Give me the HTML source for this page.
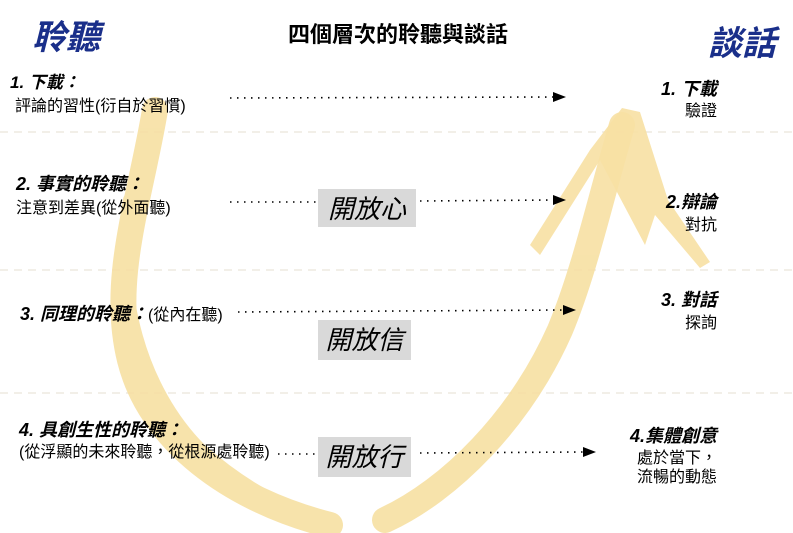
<!DOCTYPE html>
<html><head><meta charset="utf-8"><style>
body{margin:0;width:793px;height:533px;background:#fff;position:relative;overflow:hidden;font-family:"Liberation Sans","Noto Sans CJK TC",sans-serif;}
.t{position:absolute;white-space:nowrap;color:#000;}
.i{font-style:italic;font-weight:bold;}
.box{position:absolute;background:#d9d9d9;font-size:26px;font-style:italic;text-align:center;line-height:40px;}
.r{text-align:right;}
</style></head><body>
<svg width="793" height="533" style="position:absolute;left:0;top:0">
<g stroke="#eeeae0" stroke-width="1.5" stroke-dasharray="8,6">
<line x1="0" y1="132" x2="793" y2="132"/><line x1="0" y1="270" x2="793" y2="270"/><line x1="0" y1="393" x2="793" y2="393"/>
</g>
<g fill="none" stroke="#f7e0a3" stroke-linecap="round" opacity="0.9">
<path d="M155,110 C140,200 110,280 130,360 C150,440 230,500 330,525" stroke-width="26"/>
<path d="M130,200 C112,290 140,390 200,450 C250,495 300,515 320,520" stroke-width="14"/>
<path d="M385,520 C450,490 520,420 560,330 C585,270 600,200 622,125" stroke-width="26"/>
<path d="M405,515 C480,470 540,390 575,300" stroke-width="12"/>
</g>
<g fill="#f7e0a3" opacity="0.9">
<polygon points="622,108 640,112 668,200 710,262 700,268 655,215 645,245 600,160 540,255 530,245 590,150"/>
</g>
<g fill="#000">
<polygon points="553,92 566,97 553,102"/>
<polygon points="553,195 566,200 553,205"/>
<polygon points="563,305 576,310 563,315"/>
<polygon points="583,447 596,452 583,457"/>
</g>
<g fill="none" stroke="#000" stroke-width="1.6" stroke-dasharray="1.5,5.5">
<line x1="230" y1="98" x2="553" y2="97"/>
<line x1="230" y1="202" x2="318" y2="202"/><line x1="420" y1="201" x2="553" y2="200"/>
<line x1="238" y1="312" x2="563" y2="310"/>
<line x1="278" y1="454" x2="318" y2="454"/><line x1="420" y1="453" x2="583" y2="452"/>
</g>
</svg>
<div class="t i" style="left:32px;top:10px;font-size:34px;color:#1a2f8a;">聆聽</div>
<div class="t i" style="left:708px;top:16px;font-size:34px;color:#1a2f8a;">談話</div>
<div class="t" style="left:288px;top:17px;font-size:22px;font-weight:bold;">四個層次的聆聽與談話</div>

<div class="t i" style="left:10px;top:68px;font-size:17px;">1. 下載：</div>
<div class="t" style="left:15px;top:92px;font-size:16px;">評論的習性(衍自於習慣)</div>
<div class="t i" style="left:16px;top:170px;font-size:18px;">2. 事實的聆聽：</div>
<div class="t" style="left:16px;top:194px;font-size:16px;">注意到差異(從外面聽)</div>
<div class="t" style="left:20px;top:300px;font-size:18px;"><span class="i">3. 同理的聆聽：</span><span style="font-size:16px">(從內在聽)</span></div>
<div class="t i" style="left:19px;top:416px;font-size:18px;">4. 具創生性的聆聽：</div>
<div class="t" style="left:19px;top:438px;font-size:16px;">(從浮顯的未來聆聽，從根源處聆聽)</div>

<div class="box" style="left:318px;top:189px;width:98px;height:38px;">開放心</div>
<div class="box" style="left:318px;top:320px;width:93px;height:40px;">開放信</div>
<div class="box" style="left:318px;top:437px;width:93px;height:40px;">開放行</div>

<div class="t i r" style="right:76px;top:75px;font-size:18px;">1. 下載</div>
<div class="t r" style="right:76px;top:97px;font-size:16px;">驗證</div>
<div class="t i r" style="right:76px;top:188px;font-size:18px;">2.辯論</div>
<div class="t r" style="right:76px;top:211px;font-size:16px;">對抗</div>
<div class="t i r" style="right:76px;top:286px;font-size:18px;">3. 對話</div>
<div class="t r" style="right:76px;top:309px;font-size:16px;">探詢</div>
<div class="t i r" style="right:76px;top:422px;font-size:18px;">4.集體創意</div>
<div class="t r" style="right:76px;top:444px;font-size:16px;">處於當下，</div>
<div class="t r" style="right:76px;top:463px;font-size:16px;">流暢的動態</div>
</body></html>
